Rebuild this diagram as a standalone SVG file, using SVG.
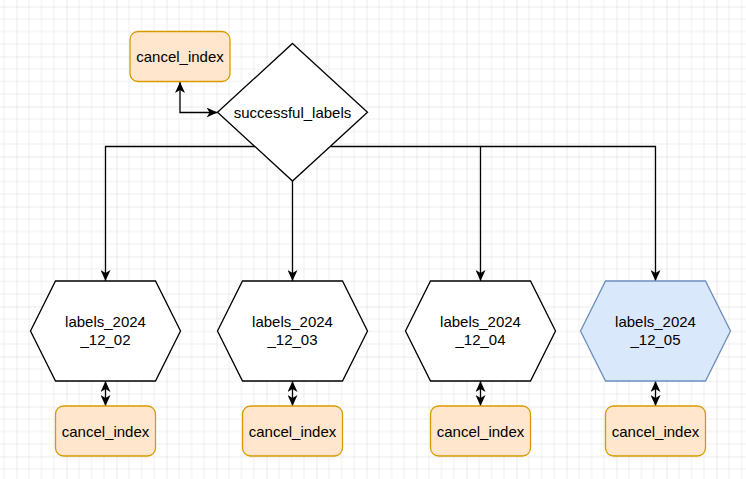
<svg xmlns="http://www.w3.org/2000/svg" width="746" height="479" viewBox="0 0 746 479">
<defs>
<pattern id="grid" patternUnits="userSpaceOnUse" x="16.5" y="6.5" width="50" height="50">
<path d="M12.5,0 V50 M25,0 V50 M37.5,0 V50 M0,12.5 H50 M0,25 H50 M0,37.5 H50" stroke="#eeeeee" stroke-width="1" fill="none"/>
<path d="M0,0 V50 M0,0 H50" stroke="#d6d6d6" stroke-width="1" fill="none"/>
</pattern>
<marker id="arr" viewBox="0 0 11 10" markerUnits="userSpaceOnUse" markerWidth="11" markerHeight="10" refX="11" refY="5" orient="auto-start-reverse">
<path d="M0,0 L11,5 L0,10 L3,5 Z" fill="#000"/>
</marker>
</defs>
<style>
.lbl{font-family:"Liberation Sans",Arial,Helvetica,sans-serif;font-size:15px;fill:#000;text-anchor:middle}
.cancel{fill:#ffe6cc;stroke:#d79b00;stroke-width:1.3}
.hex{fill:#fff;stroke:#000;stroke-width:1.3}
.hexb{fill:#dae8fc;stroke:#6c8ebf;stroke-width:1.3}
.edge{fill:none;stroke:#000;stroke-width:1.3}
</style>
<rect width="746" height="479" fill="#fff"/>
<rect width="746" height="479" fill="url(#grid)"/>

<g id="connectors">
<path class="edge" d="M180,82 V112.5 H217.5" marker-start="url(#arr)" marker-end="url(#arr)"/>
<path class="edge" d="M254.5,146.5 H105.5 V281" marker-end="url(#arr)"/>
<path class="edge" d="M292.5,181 V281" marker-end="url(#arr)"/>
<path class="edge" d="M330.5,146.5 H480.5 V281" marker-end="url(#arr)"/>
<path class="edge" d="M480.5,146.5 H655.5 V281" marker-end="url(#arr)"/>
<path class="edge" d="M105.5,381 V406" marker-start="url(#arr)" marker-end="url(#arr)"/>
<path class="edge" d="M292.5,381 V406" marker-start="url(#arr)" marker-end="url(#arr)"/>
<path class="edge" d="M480.5,381 V406" marker-start="url(#arr)" marker-end="url(#arr)"/>
<path class="edge" d="M655.5,381 V406" marker-start="url(#arr)" marker-end="url(#arr)"/>
</g>

<g id="cancel_top">
<rect class="cancel" x="130" y="31.5" width="100" height="50" rx="8"/>
<text class="lbl" x="180" y="61.5">cancel_index</text>
</g>

<g id="successful_labels">
<polygon class="hex" points="292.5,43.5 367.5,112.3 292.5,181 217.5,112.3"/>
<text class="lbl" x="292.5" y="117.5">successful_labels</text>
</g>

<g id="labels_2024_12_02">
<polygon class="hex" points="30.5,331 55.5,281 155.5,281 180.5,331 155.5,381 55.5,381"/>
<text class="lbl" x="105.5" y="327">labels_2024</text>
<text class="lbl" x="105.5" y="345">_12_02</text>
</g>
<g id="labels_2024_12_03">
<polygon class="hex" points="217.5,331 242.5,281 342.5,281 367.5,331 342.5,381 242.5,381"/>
<text class="lbl" x="292.5" y="327">labels_2024</text>
<text class="lbl" x="292.5" y="345">_12_03</text>
</g>
<g id="labels_2024_12_04">
<polygon class="hex" points="405.5,331 430.5,281 530.5,281 555.5,331 530.5,381 430.5,381"/>
<text class="lbl" x="480.5" y="327">labels_2024</text>
<text class="lbl" x="480.5" y="345">_12_04</text>
</g>
<g id="labels_2024_12_05">
<polygon class="hexb" points="580.5,331 605.5,281 705.5,281 730.5,331 705.5,381 605.5,381"/>
<text class="lbl" x="655.5" y="327">labels_2024</text>
<text class="lbl" x="655.5" y="345">_12_05</text>
</g>

<g id="cancel_02">
<rect class="cancel" x="55.5" y="406" width="100" height="50" rx="8"/>
<text class="lbl" x="105.5" y="436.5">cancel_index</text>
</g>
<g id="cancel_03">
<rect class="cancel" x="242.5" y="406" width="100" height="50" rx="8"/>
<text class="lbl" x="292.5" y="436.5">cancel_index</text>
</g>
<g id="cancel_04">
<rect class="cancel" x="430.5" y="406" width="100" height="50" rx="8"/>
<text class="lbl" x="480.5" y="436.5">cancel_index</text>
</g>
<g id="cancel_05">
<rect class="cancel" x="605.5" y="406" width="100" height="50" rx="8"/>
<text class="lbl" x="655.5" y="436.5">cancel_index</text>
</g>
</svg>
